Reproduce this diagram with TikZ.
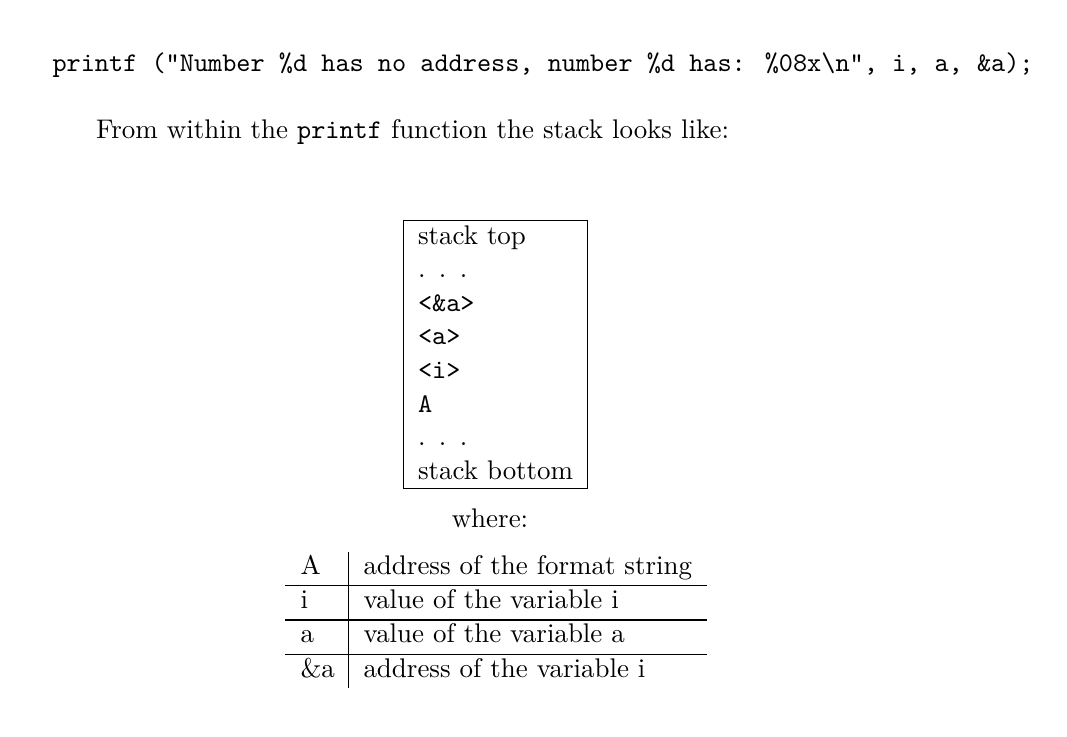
\documentclass[tikz,border=0pt]{standalone}

\begin{document}
\begin{tikzpicture}[x=0.371pt,y=0.371pt,yscale=-1]
\tikzset{txt/.style={anchor=base west,inner sep=0pt,outer sep=0pt}}
%set diagram size to the page
\useasboundingbox (0,0) rectangle (1067,736);

% Text Node
\node (call) at (52.5,71) [txt] {\ttfamily printf ("Number \%d has no address, number \%d has: \%08x\textbackslash n", i, a, \&a);};
% Text Node
\node (intro) at (96,138.7) [txt] {From within the \texttt{printf} function the stack looks like:};

%Shape: Rectangle
\node (stack) at (495.6,354.5) [draw,minimum width=68.3pt,minimum height=99.4pt,inner sep=0pt] {};

% Text Node
\node (top) at (418,244) [txt] {stack top};
% Text Node
\node (dotsA) at (418,277.6) [txt] {.\hspace{5pt}.\hspace{5pt}.};
% Text Node
\node (addra) at (418,311.2) [txt] {\ttfamily <\&a>};
% Text Node
\node (vala) at (418,344.8) [txt] {\ttfamily <a>};
% Text Node
\node (vali) at (418,378.4) [txt] {\ttfamily <i>};
% Text Node
\node (fmt) at (418,412) [txt] {\ttfamily A};
% Text Node
\node (dotsB) at (418,445.6) [txt] {.\hspace{5pt}.\hspace{5pt}.};
% Text Node
\node (bottom) at (418,479.3) [txt] {stack bottom};

% Text Node
\node (where) at (490,527.7) [anchor=base,inner sep=0pt] {where:};

%Straight Lines
\draw (348.3,551.7) -- (348.3,688);
%Straight Lines
\draw (285,585.3) -- (706.7,585.3);
%Straight Lines
\draw (285,620) -- (706.7,620);
%Straight Lines
\draw (285,654.5) -- (706.7,654.5);

% Text Node
\node (keyA) at (300.5,574.3) [txt] {A};
% Text Node
\node (descA) at (363.5,574.3) [txt] {address of the format string};
% Text Node
\node (keyi) at (300.5,608.5) [txt] {i};
% Text Node
\node (desci) at (363.5,608.5) [txt] {value of the variable i};
% Text Node
\node (keya) at (300.5,642.7) [txt] {a};
% Text Node
\node (desca) at (363.5,642.7) [txt] {value of the variable a};
% Text Node
\node (keyaddr) at (300.5,677) [txt] {\&a};
% Text Node
\node (descaddr) at (363.5,677) [txt] {address of the variable i};

\end{tikzpicture}
\end{document}
